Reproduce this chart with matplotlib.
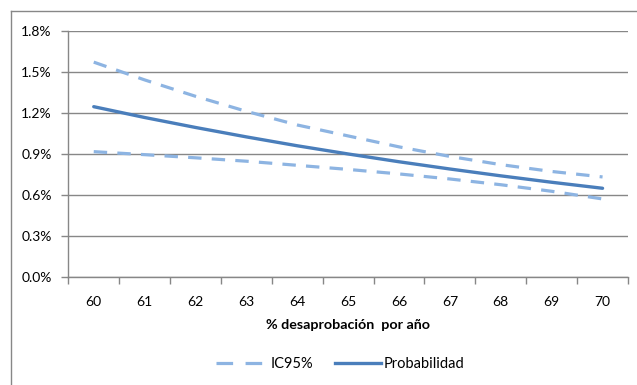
import matplotlib
matplotlib.use('Agg')
import matplotlib.pyplot as plt
from matplotlib.lines import Line2D
from matplotlib.ticker import FuncFormatter

plt.rcParams['font.family'] = ['Lato', 'DejaVu Sans']

# datos
anios = [60, 61, 62, 63, 64, 65, 66, 67, 68, 69, 70]
probabilidad = [1.244, 1.165, 1.092, 1.023, 0.958, 0.898, 0.841, 0.788, 0.738, 0.691, 0.647]
ic_sup = [1.57, 1.44, 1.32, 1.21, 1.11, 1.03, 0.95, 0.88, 0.82, 0.77, 0.73]
ic_inf = [0.915, 0.893, 0.870, 0.845, 0.815, 0.785, 0.752, 0.715, 0.673, 0.625, 0.569]
yticks = [0.0, 0.3, 0.6, 0.9, 1.2, 1.5, 1.8]

C_CLARO = '#8DB4E2'
C_OSCURO = '#4A7EBB'
C_GRIS = '#878787'
W, H = 637, 385

fig = plt.figure(figsize=(W/100, H/100), dpi=100)
ax = fig.add_axes([68.3/W, 1-276.7/H, (628-68.3)/W, 246/H])

x = list(range(len(anios)))
l_ic, = ax.plot(x, ic_sup, color=C_CLARO, lw=2.3, dashes=(4.2, 3.2))
ax.plot(x, ic_inf, color=C_CLARO, lw=2.3, dashes=(4.2, 3.2))
l_p, = ax.plot(x, probabilidad, color=C_OSCURO, lw=2.4, solid_capstyle='round')

ax.set_xlim(-0.5, len(anios)-0.5)
ax.set_ylim(0, 1.8)
ax.set_yticks(yticks)
ax.yaxis.set_major_formatter(FuncFormatter(lambda v, p: '%.1f%%' % v))
ax.set_xticks(x)
ax.set_xticklabels([str(a) for a in anios])
ax.set_xticks([i-0.5 for i in range(len(anios)+1)], minor=True)
ax.tick_params(axis='x', which='major', length=0, pad=14, labelsize=10, colors='black')
ax.tick_params(axis='x', which='minor', length=5, width=1, color=C_GRIS, direction='out')
ax.tick_params(axis='y', length=5, width=1, color=C_GRIS, pad=7, labelsize=10)

ax.grid(axis='y', color=C_GRIS, lw=1)
ax.set_axisbelow(True)
for s in ['top', 'right']:
    ax.spines[s].set_visible(False)
for s in ['left', 'bottom']:
    ax.spines[s].set_color(C_GRIS)
    ax.spines[s].set_linewidth(1)

ax.set_xlabel('% desaprobación  por año', fontsize=10.3, fontweight='bold', labelpad=8)

# leyenda: dos piezas para reproducir la separacion de Excel
h_ic = Line2D([], [], color=C_CLARO, lw=2.3, dashes=(5.2, 3.9))
h_p = Line2D([], [], color=C_OSCURO, lw=2.4)
leg1 = fig.legend([h_ic], ['IC95%'], loc='center left', bbox_to_anchor=(216/W, 1-364/H),
                  frameon=False, fontsize=10.5, handlelength=3.15, handletextpad=0.62,
                  borderpad=0, borderaxespad=0)
leg2 = fig.legend([h_p], ['Probabilidad'], loc='center left', bbox_to_anchor=(335/W, 1-364/H),
                  frameon=False, fontsize=10.5, handlelength=3.15, handletextpad=0.2,
                  borderpad=0, borderaxespad=0)

# marco exterior
fig.add_artist(Line2D([10.5/W, 1], [1-11/H, 1-11/H], color=C_GRIS, lw=1))
fig.add_artist(Line2D([10.5/W, 10.5/W], [0, 1-11/H], color=C_GRIS, lw=1))

fig.savefig('out.png', dpi=100)
